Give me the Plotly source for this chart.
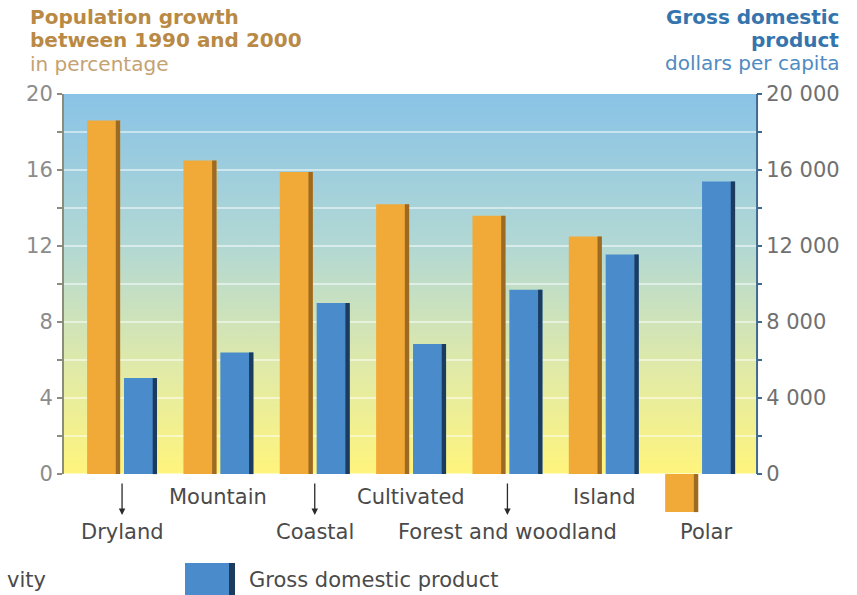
import base64
import plotly.graph_objects as go

# ---- data -------------------------------------------------------------
categories = ["Dryland", "Mountain", "Coastal", "Cultivated",
              "Forest and woodland", "Island", "Polar"]
pop_growth = [18.6, 16.5, 15.9, 14.2, 13.6, 12.5, -2.0]          # % 1990-2000
gdp_per_capita = [5050, 6400, 9000, 6850, 9700, 11550, 15400]    # dollars
left_ticks = [0, 2, 4, 6, 8, 10, 12, 14, 16, 18, 20]
right_ticks = [0, 2000, 4000, 6000, 8000, 10000, 12000, 14000, 16000, 18000, 20000]

# ---- geometry helpers ---------------------------------------------------
W, H = 857, 595
ML, MR, MT, MB = 63, 101, 94, 81
PW, PH = W - ML - MR, H - MT - MB
FONT = "DejaVu Sans"


def px_x(p):
    return (p - ML) / PW


def px_y(p):
    return (H - MB - p) / PH


xs = list(range(len(categories)))
BAR_W, EDGE_W = 0.343, 0.045
ORANGE_OFF, BLUE_OFF = -0.363, 0.02

fig = go.Figure()

# population growth bars (left axis) with darker right edge
fig.add_bar(x=xs, y=pop_growth, offset=ORANGE_OFF, width=BAR_W,
            marker=dict(color="#f1aa38", line=dict(width=0)),
            name="Population growth", showlegend=False)
fig.add_bar(x=xs, y=pop_growth, offset=ORANGE_OFF + BAR_W - EDGE_W, width=EDGE_W,
            marker=dict(color="#9c6a22", line=dict(width=0)),
            showlegend=False, hoverinfo="skip")

# GDP bars (right axis) with darker right edge
fig.add_bar(x=xs, y=gdp_per_capita, offset=BLUE_OFF, width=BAR_W, yaxis="y2",
            marker=dict(color="#4a8bcb", line=dict(width=0)),
            name="Gross domestic product", showlegend=False)
fig.add_bar(x=xs, y=gdp_per_capita, offset=BLUE_OFF + BAR_W - EDGE_W, width=EDGE_W,
            yaxis="y2", marker=dict(color="#1c3c5f", line=dict(width=0)),
            showlegend=False, hoverinfo="skip")

# sky-to-sand background gradient behind the bars
svg = ('<svg xmlns="http://www.w3.org/2000/svg" width="10" height="100" '
       'viewBox="0 0 10 100" preserveAspectRatio="none">'
       '<defs><linearGradient id="g" x1="0" y1="0" x2="0" y2="1">'
       '<stop offset="0" stop-color="#89c3e6"/>'
       '<stop offset="0.4" stop-color="#b2d8d4"/>'
       '<stop offset="0.72" stop-color="#e0eaa8"/>'
       '<stop offset="1" stop-color="#fff47c"/>'
       '</linearGradient></defs>'
       '<rect width="10" height="100" fill="url(#g)"/></svg>')
svg_uri = "data:image/svg+xml;base64," + base64.b64encode(svg.encode()).decode()

x_lo, x_hi = -0.613, 6.58
fig.add_layout_image(dict(source=svg_uri, xref="x", yref="y", x=x_lo, y=20,
                          sizex=x_hi - x_lo, sizey=20, sizing="stretch",
                          xanchor="left", yanchor="top", layer="below"))

# axis lines spanning only the 0-20 range
fig.add_shape(type="line", xref="paper", yref="y", x0=0, x1=0, y0=0, y1=20,
              line=dict(color="#8c8c7c", width=2))
fig.add_shape(type="line", xref="paper", yref="y", x0=1.0015, x1=1.0015, y0=0, y1=20,
              line=dict(color="#3f6a8f", width=2))

# category labels, staggered in two rows
upper_row = {"Mountain", "Cultivated", "Island"}
arrowed = {"Dryland", "Coastal", "Forest and woodland"}
for i, name in enumerate(categories):
    yp = px_y(497) if name in upper_row else px_y(532)
    fig.add_annotation(x=i, y=yp, xref="x", yref="paper", text=name, showarrow=False,
                       xshift=6 if name == "Polar" else 0,
                       font=dict(family=FONT, size=21, color="#4a4a4a"),
                       xanchor="center", yanchor="middle")
    if name in arrowed:
        fig.add_annotation(x=i, y=px_y(515), xref="x", yref="paper", text="",
                           showarrow=True, ax=0, ay=-33, arrowhead=2,
                           arrowsize=1, arrowwidth=1.3, arrowcolor="#2a2a2a")

# axis titles
title_left = [("<b>Population growth</b>", 17, "#b98a45"),
              ("<b>between 1990 and 2000</b>", 40, "#b98a45"),
              ("in percentage", 64, "#c4a272")]
for txt, yc, col in title_left:
    fig.add_annotation(xref="paper", yref="paper", x=px_x(28), y=px_y(yc), text=txt,
                       showarrow=False, xanchor="left", yanchor="middle",
                       font=dict(family=FONT, size=20, color=col))
title_right = [("<b>Gross domestic</b>", 17, "#3574ad"),
               ("<b>product</b>", 40, "#3574ad"),
               ("dollars per capita", 63, "#4f8bc2")]
for txt, yc, col in title_right:
    fig.add_annotation(xref="paper", yref="paper", x=px_x(841), y=px_y(yc), text=txt,
                       showarrow=False, xanchor="right", yanchor="middle",
                       font=dict(family=FONT, size=20, color=col))

# legend row
fig.add_annotation(xref="paper", yref="paper", x=px_x(5), y=px_y(580), text="vity",
                   showarrow=False, xanchor="left", yanchor="middle",
                   font=dict(family=FONT, size=21, color="#4a4a4a"))
fig.add_shape(type="rect", xref="paper", yref="paper",
              x0=px_x(185), x1=px_x(229), y0=px_y(563), y1=px_y(600),
              fillcolor="#4a8bcb", line=dict(width=0))
fig.add_shape(type="rect", xref="paper", yref="paper",
              x0=px_x(229), x1=px_x(235), y0=px_y(563), y1=px_y(600),
              fillcolor="#1c3c5f", line=dict(width=0))
fig.add_annotation(xref="paper", yref="paper", x=px_x(247), y=px_y(580),
                   text="Gross domestic product", showarrow=False,
                   xanchor="left", yanchor="middle",
                   font=dict(family=FONT, size=21, color="#4a4a4a"))

fig.update_layout(
    width=W, height=H,
    margin=dict(l=ML, r=MR, t=MT, b=MB),
    paper_bgcolor="white", plot_bgcolor="rgba(0,0,0,0)",
    barmode="overlay", showlegend=False,
    xaxis=dict(range=[x_lo, x_hi], showticklabels=False, showgrid=False,
               zeroline=False, showline=False, ticks=""),
    yaxis=dict(range=[-2.1, 20], tickvals=left_ticks,
               ticktext=[str(v) if v % 4 == 0 else "" for v in left_ticks],
               ticks="outside", ticklen=5, tickwidth=1.5, tickcolor="#8c8c7c",
               tickfont=dict(family=FONT, size=21, color="#8c8c8c"),
               showgrid=True, gridcolor="rgba(255,255,255,0.5)", gridwidth=1.5,
               zeroline=False, showline=False),
    yaxis2=dict(range=[-2100, 20000], overlaying="y", side="right",
                tickvals=right_ticks,
                ticktext=[f"{v:,}".replace(",", " ") if v % 4000 == 0 else ""
                          for v in right_ticks],
                ticks="outside", ticklen=5, tickwidth=1.5, tickcolor="#3f6a8f",
                tickfont=dict(family=FONT, size=21, color="#707070"),
                showgrid=False, zeroline=False, showline=False),
)

fig.write_html("out.html")
